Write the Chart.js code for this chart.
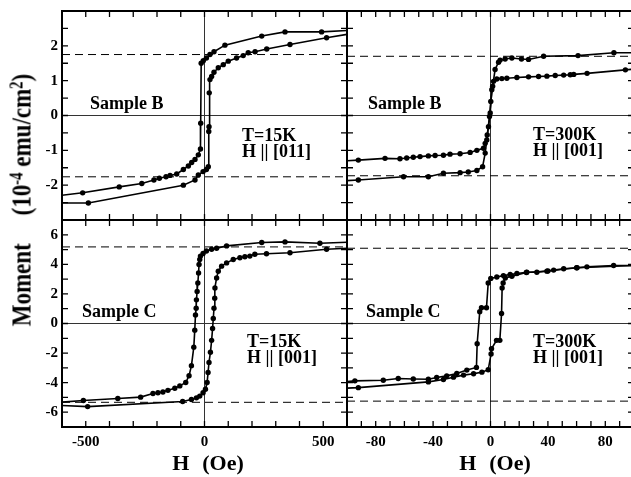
<!DOCTYPE html>
<html>
<head>
<meta charset="utf-8">
<script src="https://cdn.jsdelivr.net/npm/chart.js@4.4.1/dist/chart.umd.min.js"></script>
<style>
    html, body { margin: 0; padding: 0; background: #fff; overflow: hidden; }
    #wrap { position: relative; width: 631px; height: 477px; overflow: hidden; background: #fff; }
    canvas { position: absolute; }
    .lbl { position: absolute; font-family: 'Liberation Serif', serif; font-weight: bold; font-size: 18px; line-height: 18px; white-space: nowrap; color: #000; }
    .xTitle { position: absolute; font-family: 'Liberation Serif', serif; font-weight: bold; font-size: 22px; line-height: 22px; white-space: nowrap; transform: translate(-50%, -50%); }
    #yTitle { position: absolute; left: 23px; top: 200px; font-family: 'Liberation Serif', serif; font-weight: bold; font-size: 28px; line-height: 28px; white-space: nowrap; transform: translate(-50%, -50%) rotate(-90deg) scaleX(0.82); }
    .sup { position: relative; top: -0.45em; font-size: 0.65em; }
    .gap { display: inline-block; width: 13px; }
</style>
</head>
<body>
<div id="wrap">
    <canvas id="cTL" width="352" height="226" style="left:0px;top:0px"></canvas>
    <canvas id="cTR" width="295" height="226" style="left:344px;top:0px"></canvas>
    <canvas id="cBL" width="352" height="263" style="left:0px;top:214px"></canvas>
    <canvas id="cBR" width="295" height="263" style="left:344px;top:214px"></canvas>

    <div class="lbl" style="left:90px;top:94px">Sample B</div>
    <div class="lbl" style="left:242px;top:126px">T=15K</div>
    <div class="lbl" style="left:242px;top:142px">H || [011]</div>

    <div class="lbl" style="left:368px;top:94px">Sample B</div>
    <div class="lbl" style="left:533px;top:125px">T=300K</div>
    <div class="lbl" style="left:533px;top:141px">H || [001]</div>

    <div class="lbl" style="left:82px;top:302px">Sample C</div>
    <div class="lbl" style="left:247px;top:332px">T=15K</div>
    <div class="lbl" style="left:247px;top:348px">H || [001]</div>

    <div class="lbl" style="left:366px;top:302px">Sample C</div>
    <div class="lbl" style="left:533px;top:332px">T=300K</div>
    <div class="lbl" style="left:533px;top:348px">H || [001]</div>

    <div class="xTitle" style="left:208px;top:463px">H<span class="gap"></span>(Oe)</div>
    <div class="xTitle" style="left:495px;top:463px">H<span class="gap"></span>(Oe)</div>
    <div id="yTitle">Moment<span style="display:inline-block;width:34px"></span>(10<span class="sup">-4</span> emu/cm<span class="sup">2</span>)</div>
</div>

<script>
// Sample B, T=15K (H in Oe, moment in 1e-4 emu/cm2)
const b15DownH = [600, 493, 339, 241, 86, 40, 23, 8, -5, -14, -16, -17, -26, -40, -54, -68, -89, -117, -145, -162, -190, -213, -264, -359, -513, -600];
const b15DownM = [2.44, 2.40, 2.40, 2.28, 2.02, 1.83, 1.75, 1.65, 1.57, 1.50, -0.22, -0.96, -1.13, -1.26, -1.35, -1.45, -1.55, -1.68, -1.72, -1.76, -1.80, -1.85, -1.95, -2.05, -2.22, -2.29];
const b15UpH = [-600, -489, -89, -40, -26, -6, 8, 16, 18, 19, 20, 23, 30, 40, 58, 79, 100, 135, 163, 184, 213, 262, 360, 514, 600];
const b15UpM = [-2.51, -2.51, -2.00, -1.85, -1.71, -1.61, -1.55, -1.47, -0.46, -0.32, 0.65, 1.03, 1.12, 1.24, 1.37, 1.46, 1.56, 1.65, 1.72, 1.80, 1.83, 1.91, 2.04, 2.23, 2.33];
const b15Dash = [1.75, -1.76];

// Sample B, T=300K
const b300DownH = [100, 86, 61, 37, 26.5, 21.6, 14.9, 10.2, 6.7, 5.6, 3.2, 1.5, 0.2, -0.7, -2.3, -3.7, -4.9, -9.5, -14.2, -21.2, -28.2, -32.8, -38.6, -43.3, -49.1, -53.8, -58.4, -63.1, -73.5, -92.1, -100];
const b300DownM = [1.80, 1.80, 1.72, 1.70, 1.61, 1.62, 1.65, 1.62, 1.59, 1.53, 1.32, 0.84, 0.40, -0.03, -0.56, -0.80, -0.94, -1.00, -1.06, -1.10, -1.11, -1.14, -1.15, -1.16, -1.18, -1.20, -1.22, -1.24, -1.23, -1.28, -1.30];
const b300UpH = [-100, -92.1, -60.6, -43.3, -32.8, -21.2, -15.5, -9.5, -5.5, -3.7, -2.6, -1.4, -0.2, 0.9, 2.1, 4.4, 7.9, 11.4, 18.4, 26.5, 33.5, 39.3, 45.1, 51, 55.6, 58, 67.3, 94, 100];
const b300UpM = [-1.87, -1.85, -1.76, -1.76, -1.66, -1.64, -1.62, -1.58, -1.47, -1.08, -0.70, -0.32, 0.07, 0.74, 0.98, 1.05, 1.06, 1.07, 1.09, 1.11, 1.12, 1.13, 1.15, 1.16, 1.17, 1.18, 1.21, 1.31, 1.33];
const b300Dash = [1.70, -1.73];

// Sample C, T=15K
const c15DownH = [600, 486, 339, 241, 93, 51, 30, 8, -6, -17, -20, -23, -25, -28, -31, -34, -35, -38, -41, -45, -55, -65, -79, -104, -125, -154, -175, -196, -217, -269, -365, -510, -600];
const c15DownM = [5.50, 5.43, 5.52, 5.48, 5.25, 5.09, 5.02, 4.90, 4.73, 4.56, 4.33, 3.99, 3.42, 2.74, 2.17, 1.60, 1.03, 0.57, -0.45, -1.60, -2.85, -3.53, -3.99, -4.22, -4.38, -4.52, -4.63, -4.68, -4.73, -4.98, -5.07, -5.21, -5.32];
const c15UpH = [-600, -492, -92, -55, -34, -20, -6, 4, 11, 15, 19, 25, 30, 34, 37, 40, 43, 44, 51, 58, 72, 93, 121, 149, 170, 191, 212, 261, 360, 514, 600];
const c15UpM = [-5.55, -5.62, -5.28, -5.14, -5.03, -4.91, -4.68, -4.45, -3.99, -3.31, -2.63, -1.94, -1.14, -0.34, 0.34, 1.03, 1.71, 2.40, 3.08, 3.53, 3.88, 4.10, 4.33, 4.45, 4.51, 4.56, 4.68, 4.72, 4.79, 5.02, 5.09];
const c15Dash = [5.18, -5.33];

// Sample C, T=300K
const c300DownH = [100, 85.8, 67.2, 60.3, 51, 44, 39.3, 32.3, 25.3, 18.4, 13.7, 9, 4.4, 0.2, -1.6, -2.8, -6.3, -7.5, -9.3, -9.8, -16.5, -23.5, -30.5, -37.5, -43.3, -53.8, -64.3, -74.7, -94.5, -100];
const c300DownM = [3.92, 3.92, 3.83, 3.77, 3.70, 3.61, 3.54, 3.47, 3.47, 3.38, 3.31, 3.24, 3.15, 3.05, 2.74, 1.07, 1.07, 0.79, -1.37, -2.97, -3.15, -3.38, -3.54, -3.65, -3.77, -3.75, -3.72, -3.84, -3.88, -3.93];
const c300UpH = [-100, -92.1, -43.3, -32.8, -25.8, -18.8, -11.8, -6, -1.6, 0.4, 0.7, 4.2, 6.5, 7.7, 8.1, 8.8, 10.3, 14.9, 25, 40, 60, 100];
const c300UpM = [-4.37, -4.34, -3.95, -3.79, -3.63, -3.49, -3.40, -3.29, -3.13, -2.06, -1.71, -1.14, -1.14, 0.68, 2.40, 2.74, 3.08, 3.20, 3.45, 3.55, 3.77, 3.92];
const c300Dash = [5.09, -5.25];

// axis ranges and tick steps
const wideRange = [-600, 600];
const narrowRange = [-100, 100];
const topRange = [-3, 3];
const bottomRange = [-7, 7];

const wideLabel = (v) => (v % 500 === 0 && Math.abs(v) < 600 ? String(v) : '');
const narrowLabel = (v) => (v % 40 === 0 && Math.abs(v) < 100 ? String(v) : '');
const topLabel = (v) => (Number.isInteger(v) && Math.abs(v) < 3 ? String(v) : '');
const bottomLabel = (v) => (v % 2 === 0 && Math.abs(v) < 7 ? String(v) : '');

const tickFont = { family: 'Liberation Serif', size: 15, weight: 'bold' };
const zeroColor = (c) => (c.tick && c.tick.value === 0 ? '#333' : 'rgba(0,0,0,0)');

const toPoints = (h, m) => h.map((v, i) => ({ x: v, y: m[i] }));

// frame with inward ticks on all four sides
const framePlugin =
{
    id: 'frame',
    afterDatasetsDraw(chart)
    {
        const { ctx, chartArea: a } = chart;
        const xs = chart.scales.x;
        const ys = chart.scales.y;
        const len = 6;

        ctx.save();
        ctx.strokeStyle = '#000';
        ctx.lineWidth = 1.3;
        ctx.beginPath();

        xs.ticks.forEach((t) =>
        {
            if (t.value <= xs.min || t.value >= xs.max) return;
            const px = xs.getPixelForValue(t.value);
            ctx.moveTo(px, a.bottom);
            ctx.lineTo(px, a.bottom - len);
            ctx.moveTo(px, a.top);
            ctx.lineTo(px, a.top + len);
        });

        ys.ticks.forEach((t) =>
        {
            if (t.value <= ys.min || t.value >= ys.max) return;
            const py = ys.getPixelForValue(t.value);
            ctx.moveTo(a.left, py);
            ctx.lineTo(a.left + len, py);
            ctx.moveTo(a.right, py);
            ctx.lineTo(a.right - len, py);
        });

        ctx.stroke();
        ctx.lineWidth = 2;
        ctx.strokeRect(a.left, a.top, a.right - a.left, a.bottom - a.top);
        ctx.restore();
    }
};

const makePanel = (id, loops, dash, xr, yr, opt) =>
{
    const datasets = [];

    dash.forEach((level) =>
    {
        datasets.push({
            data: [{ x: xr[0], y: level }, { x: xr[1], y: level }],
            showLine: true,
            borderColor: '#000',
            borderWidth: 1,
            borderDash: [8, 5],
            pointRadius: 0
        });
    });

    loops.forEach(([h, m]) =>
    {
        datasets.push({
            data: toPoints(h, m),
            showLine: true,
            borderColor: '#000',
            backgroundColor: '#000',
            borderWidth: 1.6,
            pointBorderWidth: 0,
            pointBackgroundColor: '#000',
            pointRadius: (c) =>
            {
                const p = c.raw;
                return p && (p.x <= xr[0] || p.x >= xr[1]) ? 0 : 2.7;
            }
        });
    });

    new Chart(document.getElementById(id),
    {
        type: 'scatter',
        data: { datasets: datasets },
        options:
        {
            responsive: false,
            animation: false,
            devicePixelRatio: 1,
            events: [],
            layout: { padding: opt.padding },
            plugins: { legend: { display: false }, tooltip: { enabled: false } },
            scales:
            {
                x:
                {
                    type: 'linear',
                    min: xr[0],
                    max: xr[1],
                    afterFit: (s) =>
                    {
                        s.height = opt.showX ? 50 : 0;
                        s.paddingLeft = s.paddingRight = s.paddingTop = s.paddingBottom = 0;
                    },
                    ticks: { stepSize: opt.xStep, autoSkip: false, maxRotation: 0, display: opt.showX, padding: 6, color: '#000', font: tickFont, callback: opt.xLabel },
                    grid: { drawTicks: false, color: zeroColor, lineWidth: 1 },
                    border: { display: false }
                },
                y:
                {
                    type: 'linear',
                    min: yr[0],
                    max: yr[1],
                    afterFit: (s) =>
                    {
                        s.width = opt.showY ? 62 : 0;
                        s.paddingLeft = s.paddingRight = s.paddingTop = s.paddingBottom = 0;
                    },
                    ticks: { stepSize: opt.yStep, autoSkip: false, display: opt.showY, padding: 4, color: '#000', font: tickFont, callback: opt.yLabel },
                    grid: { drawTicks: false, color: zeroColor, lineWidth: 1 },
                    border: { display: false }
                }
            }
        },
        plugins: [framePlugin]
    });
};

makePanel('cTL', [[b15DownH, b15DownM], [b15UpH, b15UpM]], b15Dash, wideRange, topRange,
{
    padding: { left: 0, top: 11, right: 5, bottom: 6 },
    showX: false, showY: true, xStep: 100, yStep: 0.5, xLabel: wideLabel, yLabel: topLabel
});

makePanel('cTR', [[b300DownH, b300DownM], [b300UpH, b300UpM]], b300Dash, narrowRange, topRange,
{
    padding: { left: 3, top: 11, right: 5, bottom: 6 },
    showX: false, showY: false, xStep: 10, yStep: 0.5, xLabel: narrowLabel, yLabel: topLabel
});

makePanel('cBL', [[c15DownH, c15DownM], [c15UpH, c15UpM]], c15Dash, wideRange, bottomRange,
{
    padding: { left: 0, top: 6, right: 5, bottom: 0 },
    showX: true, showY: true, xStep: 100, yStep: 1, xLabel: wideLabel, yLabel: bottomLabel
});

makePanel('cBR', [[c300DownH, c300DownM], [c300UpH, c300UpM]], c300Dash, narrowRange, bottomRange,
{
    padding: { left: 3, top: 6, right: 5, bottom: 0 },
    showX: true, showY: false, xStep: 10, yStep: 1, xLabel: narrowLabel, yLabel: bottomLabel
});
</script>
</body>
</html>
